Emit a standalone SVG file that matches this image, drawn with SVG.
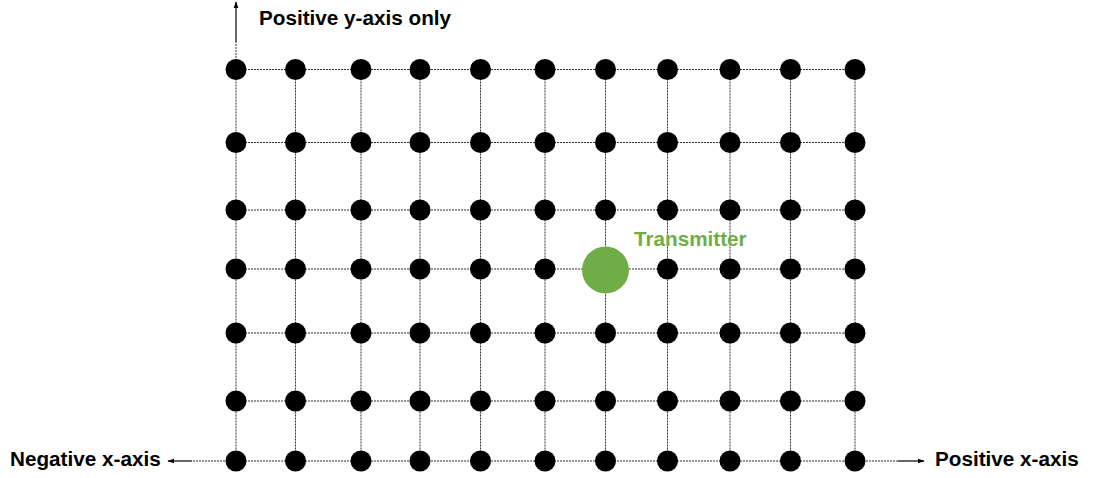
<svg xmlns="http://www.w3.org/2000/svg" width="1096" height="478" viewBox="0 0 1096 478">
  <style>
    .grid { stroke: #333; stroke-width: 1; stroke-dasharray: 2 1; fill: none; }
    .axis { stroke: #000; stroke-width: 1.2; fill: none; }
    .dot { fill: #000; }
    .tx { fill: #70AD47; }
    .lbl { font-family: "Liberation Sans", Arial, sans-serif; font-weight: bold; font-size: 20.7px; fill: #000; }
    .txl { font-family: "Liberation Sans", Arial, sans-serif; font-weight: bold; font-size: 20.7px; fill: #70AD47; }
  </style>
  <defs>
    <marker id="arrow" viewBox="0 0 10 10" refX="9" refY="5" markerWidth="7" markerHeight="7" orient="auto" markerUnits="userSpaceOnUse">
      <path d="M0,1.5 L10,5 L0,8.5 z" fill="#000"/>
    </marker>
  </defs>
  <rect width="1096" height="478" fill="#fff"/>

  <!-- grid lines and axis connectors -->
  <g id="connectors">
    <!-- horizontal rows -->
    <path class="grid" d="M236,69.5H855 M236,142.5H855 M236,210H855 M236,269H855 M236,333H855 M236,401H855 M236,461H855"/>
    <!-- vertical columns -->
    <path class="grid" d="M236,69.5V461 M295.5,69.5V461 M361,69.5V461 M420,69.5V461 M480.5,69.5V461 M545,69.5V461 M605.5,69.5V461 M667.5,69.5V461 M730,69.5V461 M790.5,69.5V461 M855,69.5V461"/>
    <!-- axis extensions -->
    <path class="grid" d="M236,58V42 M225,461H192 M866,461H898"/>
    <path class="axis" d="M236,42V2" marker-end="url(#arrow)"/>
    <path class="axis" d="M192,461H168" marker-end="url(#arrow)"/>
    <path class="axis" d="M898,461H924" marker-end="url(#arrow)"/>
  </g>

  <!-- receiver grid points -->
  <g id="points">
    <g id="row1">
      <circle class="dot" cx="236" cy="69.5" r="10.5"/><circle class="dot" cx="295.5" cy="69.5" r="10.5"/><circle class="dot" cx="361" cy="69.5" r="10.5"/><circle class="dot" cx="420" cy="69.5" r="10.5"/><circle class="dot" cx="480.5" cy="69.5" r="10.5"/><circle class="dot" cx="545" cy="69.5" r="10.5"/><circle class="dot" cx="605.5" cy="69.5" r="10.5"/><circle class="dot" cx="667.5" cy="69.5" r="10.5"/><circle class="dot" cx="730" cy="69.5" r="10.5"/><circle class="dot" cx="790.5" cy="69.5" r="10.5"/><circle class="dot" cx="855" cy="69.5" r="10.5"/>
    </g>
    <g id="row2">
      <circle class="dot" cx="236" cy="142.5" r="10.5"/><circle class="dot" cx="295.5" cy="142.5" r="10.5"/><circle class="dot" cx="361" cy="142.5" r="10.5"/><circle class="dot" cx="420" cy="142.5" r="10.5"/><circle class="dot" cx="480.5" cy="142.5" r="10.5"/><circle class="dot" cx="545" cy="142.5" r="10.5"/><circle class="dot" cx="605.5" cy="142.5" r="10.5"/><circle class="dot" cx="667.5" cy="142.5" r="10.5"/><circle class="dot" cx="730" cy="142.5" r="10.5"/><circle class="dot" cx="790.5" cy="142.5" r="10.5"/><circle class="dot" cx="855" cy="142.5" r="10.5"/>
    </g>
    <g id="row3">
      <circle class="dot" cx="236" cy="210" r="10.5"/><circle class="dot" cx="295.5" cy="210" r="10.5"/><circle class="dot" cx="361" cy="210" r="10.5"/><circle class="dot" cx="420" cy="210" r="10.5"/><circle class="dot" cx="480.5" cy="210" r="10.5"/><circle class="dot" cx="545" cy="210" r="10.5"/><circle class="dot" cx="605.5" cy="210" r="10.5"/><circle class="dot" cx="667.5" cy="210" r="10.5"/><circle class="dot" cx="730" cy="210" r="10.5"/><circle class="dot" cx="790.5" cy="210" r="10.5"/><circle class="dot" cx="855" cy="210" r="10.5"/>
    </g>
    <g id="row4">
      <circle class="dot" cx="236" cy="269" r="10.5"/><circle class="dot" cx="295.5" cy="269" r="10.5"/><circle class="dot" cx="361" cy="269" r="10.5"/><circle class="dot" cx="420" cy="269" r="10.5"/><circle class="dot" cx="480.5" cy="269" r="10.5"/><circle class="dot" cx="545" cy="269" r="10.5"/><circle class="dot" cx="667.5" cy="269" r="10.5"/><circle class="dot" cx="730" cy="269" r="10.5"/><circle class="dot" cx="790.5" cy="269" r="10.5"/><circle class="dot" cx="855" cy="269" r="10.5"/>
    </g>
    <g id="row5">
      <circle class="dot" cx="236" cy="333" r="10.5"/><circle class="dot" cx="295.5" cy="333" r="10.5"/><circle class="dot" cx="361" cy="333" r="10.5"/><circle class="dot" cx="420" cy="333" r="10.5"/><circle class="dot" cx="480.5" cy="333" r="10.5"/><circle class="dot" cx="545" cy="333" r="10.5"/><circle class="dot" cx="605.5" cy="333" r="10.5"/><circle class="dot" cx="667.5" cy="333" r="10.5"/><circle class="dot" cx="730" cy="333" r="10.5"/><circle class="dot" cx="790.5" cy="333" r="10.5"/><circle class="dot" cx="855" cy="333" r="10.5"/>
    </g>
    <g id="row6">
      <circle class="dot" cx="236" cy="401" r="10.5"/><circle class="dot" cx="295.5" cy="401" r="10.5"/><circle class="dot" cx="361" cy="401" r="10.5"/><circle class="dot" cx="420" cy="401" r="10.5"/><circle class="dot" cx="480.5" cy="401" r="10.5"/><circle class="dot" cx="545" cy="401" r="10.5"/><circle class="dot" cx="605.5" cy="401" r="10.5"/><circle class="dot" cx="667.5" cy="401" r="10.5"/><circle class="dot" cx="730" cy="401" r="10.5"/><circle class="dot" cx="790.5" cy="401" r="10.5"/><circle class="dot" cx="855" cy="401" r="10.5"/>
    </g>
    <g id="row7">
      <circle class="dot" cx="236" cy="461" r="10.5"/><circle class="dot" cx="295.5" cy="461" r="10.5"/><circle class="dot" cx="361" cy="461" r="10.5"/><circle class="dot" cx="420" cy="461" r="10.5"/><circle class="dot" cx="480.5" cy="461" r="10.5"/><circle class="dot" cx="545" cy="461" r="10.5"/><circle class="dot" cx="605.5" cy="461" r="10.5"/><circle class="dot" cx="667.5" cy="461" r="10.5"/><circle class="dot" cx="730" cy="461" r="10.5"/><circle class="dot" cx="790.5" cy="461" r="10.5"/><circle class="dot" cx="855" cy="461" r="10.5"/>
    </g>
  </g>

  <!-- transmitter -->
  <g id="transmitter">
    <circle class="tx" cx="605.5" cy="270" r="23.5"/>
    <text class="txl" x="634" y="246">Transmitter</text>
  </g>

  <!-- axis labels -->
  <g id="labels">
    <text class="lbl" x="259" y="25">Positive y-axis only</text>
    <text class="lbl" x="10" y="466">Negative x-axis</text>
    <text class="lbl" x="935" y="466">Positive x-axis</text>
  </g>
</svg>
